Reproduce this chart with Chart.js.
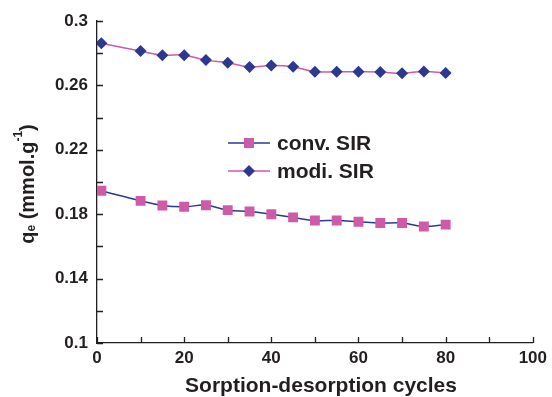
<!DOCTYPE html>
<html>
<head>
<meta charset="utf-8">
<script src="https://cdn.jsdelivr.net/npm/chart.js@4.4.0/dist/chart.umd.min.js"></script>
<style>
  html, body { margin: 0; padding: 0; background: #fff; }
  #wrap { width: 552px; height: 397px; position: relative; }
</style>
</head>
<body>
<div id="wrap"><canvas id="chart"></canvas></div>
<script>
// Sorption-desorption cycle numbers
const cycles = [1, 10, 15, 20, 25, 30, 35, 40, 45, 50, 55, 60, 65, 70, 75, 80];

// q_e per cycle, mmol/g
const convSIR = [0.1946, 0.1883, 0.1854, 0.1846, 0.1856, 0.1825, 0.1817, 0.1800,
                 0.1780, 0.1761, 0.1761, 0.1753, 0.1745, 0.1745, 0.1724, 0.1735];
const modiSIR = [0.2862, 0.2813, 0.2788, 0.2788, 0.2757, 0.2741, 0.2714, 0.2724,
                 0.2716, 0.2685, 0.2685, 0.2685, 0.2683, 0.2675, 0.2687, 0.2677];

const seriesNames = ['conv. SIR', 'modi. SIR'];

const TEXT = '#231f20';
const BLUE = '#2b3990';
const PINK = '#cf5aa8';
const FONT = '"Liberation Sans", Arial, sans-serif';

function toPoints(ys) {
    return cycles.map((c, i) => ({ x: c, y: ys[i] }));
}

function fmtY(v) {
    const r = Math.round(v * 100) / 100;
    const k = (r - 0.1) / 0.04;
    if (Math.abs(k - Math.round(k)) > 1e-6) return '';
    return String(r);
}

// inward tick marks, axis titles and the inset legend
const decorations = {
    id: 'decorations',
    afterDraw(chart) {
        const ctx = chart.ctx;
        const xs = chart.scales.x;
        const ys = chart.scales.y;
        const area = chart.chartArea;
        ctx.save();
        ctx.strokeStyle = TEXT;
        ctx.lineWidth = 1.3;
        ctx.beginPath();
        xs.ticks.forEach(t => {
            const px = Math.round(xs.getPixelForValue(t.value)) + 0.5;
            ctx.moveTo(px, area.bottom);
            ctx.lineTo(px, area.bottom - 6);
        });
        ys.ticks.forEach(t => {
            const py = Math.round(ys.getPixelForValue(t.value)) + 0.5;
            ctx.moveTo(area.left, py);
            ctx.lineTo(area.left + 6, py);
        });
        ctx.stroke();

        // x title
        ctx.fillStyle = TEXT;
        ctx.font = 'bold 21px ' + FONT;
        ctx.textAlign = 'center';
        ctx.textBaseline = 'middle';
        ctx.fillText('Sorption-desorption cycles', 321, 386);

        // y title: q with subscript e, g with superscript -1
        ctx.translate(28, 184);
        ctx.rotate(-Math.PI / 2);
        const parts = [
            { t: 'q', f: 'bold 20px ', dy: 0 },
            { t: 'e', f: 'bold 12px ', dy: 4 },
            { t: ' (mmol.g', f: 'bold 20px ', dy: 0 },
            { t: '-1', f: 'bold 12px ', dy: -9 },
            { t: ')', f: 'bold 20px ', dy: 0 }
        ];
        let total = 0;
        parts.forEach(p => { ctx.font = p.f + FONT; p.w = ctx.measureText(p.t).width; total += p.w; });
        let cx = -total / 2;
        ctx.textAlign = 'left';
        parts.forEach(p => {
            ctx.font = p.f + FONT;
            ctx.fillText(p.t, cx, p.dy);
            cx += p.w;
        });
        ctx.restore();

        // legend
        const rows = [
            { label: seriesNames[0], line: BLUE, fill: PINK, shape: 'rect', y: 143 },
            { label: seriesNames[1], line: PINK, fill: BLUE, shape: 'diamond', y: 171 }
        ];
        ctx.save();
        rows.forEach(r => {
            ctx.strokeStyle = r.line;
            ctx.lineWidth = 1.5;
            ctx.beginPath();
            ctx.moveTo(228, r.y);
            ctx.lineTo(270, r.y);
            ctx.stroke();
            ctx.fillStyle = r.fill;
            ctx.beginPath();
            if (r.shape === 'rect') {
                ctx.rect(249 - 5, r.y - 5, 10, 10);
            } else {
                ctx.moveTo(249 - 6, r.y);
                ctx.lineTo(249, r.y - 6);
                ctx.lineTo(249 + 6, r.y);
                ctx.lineTo(249, r.y + 6);
                ctx.closePath();
            }
            ctx.fill();
            ctx.fillStyle = TEXT;
            ctx.font = 'bold 21px ' + FONT;
            ctx.textAlign = 'left';
            ctx.textBaseline = 'middle';
            ctx.fillText(r.label, 277, r.y + 1);
        });
        ctx.restore();
    }
};

new Chart(document.getElementById('chart'), {
    type: 'line',
    data: {
        datasets: [
            {
                label: seriesNames[0],
                data: toPoints(convSIR),
                borderColor: BLUE,
                backgroundColor: PINK,
                borderWidth: 1.5,
                pointStyle: 'rect',
                pointRadius: 7,
                pointBorderWidth: 0,
                pointBackgroundColor: PINK,
                tension: 0.4
            },
            {
                label: seriesNames[1],
                data: toPoints(modiSIR),
                borderColor: PINK,
                backgroundColor: BLUE,
                borderWidth: 1.5,
                pointStyle: 'rectRot',
                pointRadius: 6,
                pointBorderWidth: 0,
                pointBackgroundColor: BLUE,
                tension: 0.4
            }
        ]
    },
    options: {
        responsive: true,
        maintainAspectRatio: false,
        animation: false,
        layout: { padding: { top: 21, right: 16, left: 0, bottom: 0 } },
        plugins: {
            legend: { display: false },
            tooltip: { enabled: false }
        },
        scales: {
            x: {
                type: 'linear',
                min: 0,
                max: 100,
                afterFit: (scale) => { scale.height = 54; },
                ticks: {
                    stepSize: 10,
                    autoSkip: false,
                    maxRotation: 0,
                    padding: 5,
                    color: TEXT,
                    font: { family: FONT, size: 17, weight: 'bold' },
                    callback: (v) => (v % 20 === 0 ? String(v) : '')
                },
                grid: { display: false, drawTicks: false },
                border: { display: true, color: TEXT, width: 1.3 }
            },
            y: {
                min: 0.1,
                max: 0.3,
                afterFit: (scale) => { scale.width = 97; },
                ticks: {
                    stepSize: 0.02,
                    autoSkip: false,
                    padding: 9,
                    color: TEXT,
                    font: { family: FONT, size: 17, weight: 'bold' },
                    callback: fmtY
                },
                grid: { display: false, drawTicks: false },
                border: { display: true, color: TEXT, width: 1.3 }
            }
        }
    },
    plugins: [decorations]
});
</script>
</body>
</html>
